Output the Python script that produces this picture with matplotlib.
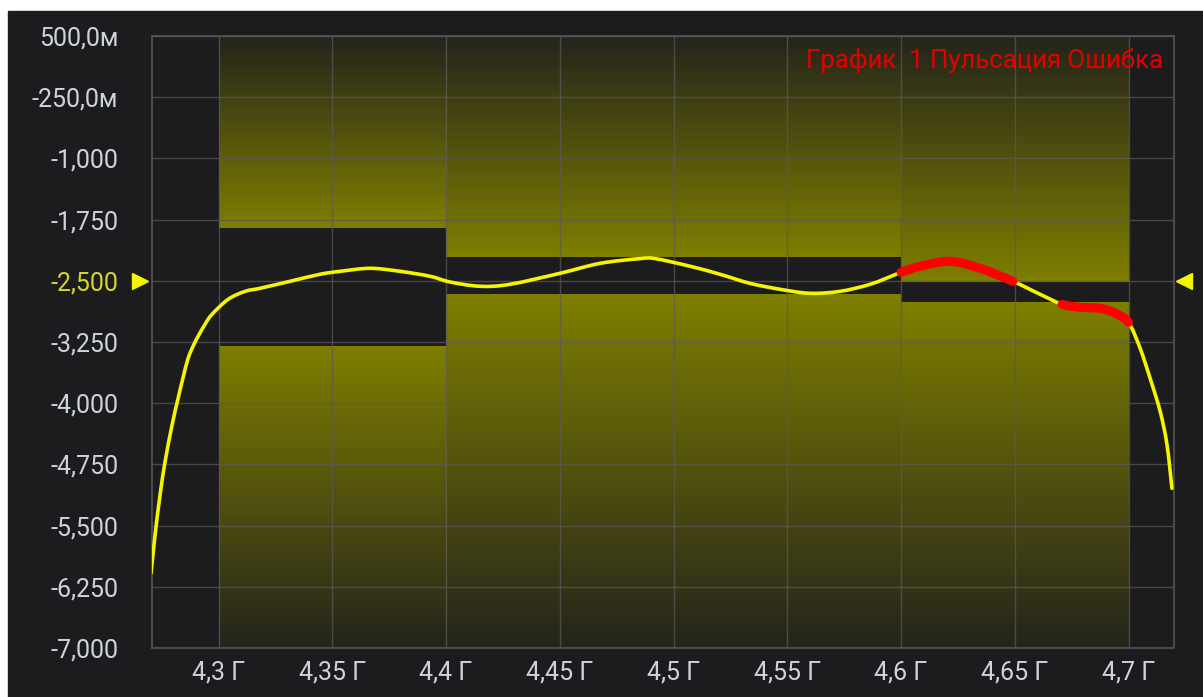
import numpy as np
import matplotlib
matplotlib.use('Agg')
import matplotlib.pyplot as plt
from matplotlib.patches import Rectangle, PathPatch
from matplotlib.path import Path

plt.rcParams['font.family'] = ['Roboto', 'DejaVu Sans']

# trace (GHz, level)
freq = [4.2703, 4.2721, 4.2743, 4.2765, 4.2796, 4.2822, 4.2844, 4.2866, 4.2888,
        4.2910, 4.2941, 4.2971,
        4.3042, 4.3117, 4.3182, 4.3314, 4.3446, 4.3534, 4.3666, 4.3798, 4.3930,
        4.4018, 4.4150, 4.4281, 4.4501, 4.4677, 4.4853, 4.4919, 4.5073, 4.5204,
        4.5336, 4.5468, 4.5600, 4.5732, 4.5864, 4.5978, 4.6000, 4.6084,
        4.6215, 4.6347, 4.6492, 4.6611, 4.6708, 4.6787, 4.6875, 4.6941,
        4.7000, 4.7051, 4.7095, 4.7139, 4.7169, 4.7191]
level = [-6.081, -5.607, -5.116, -4.712, -4.259, -3.940, -3.683, -3.450, -3.300,
         -3.180, -3.030, -2.911,
         -2.727, -2.629, -2.592, -2.506, -2.420, -2.384, -2.347, -2.384, -2.445,
         -2.515, -2.567, -2.543, -2.408, -2.286, -2.228, -2.228, -2.322, -2.420,
         -2.531, -2.604, -2.653, -2.629, -2.543, -2.420, -2.395, -2.322,
         -2.261, -2.347, -2.506, -2.665, -2.788, -2.825, -2.837, -2.898,
         -3.010, -3.327, -3.695, -4.099, -4.504, -5.043]

# limit segments
seg_start = [4.3, 4.4, 4.6]
seg_end = [4.4, 4.6, 4.7]
upper = [-1.85, -2.21, -2.52]
lower = [-3.31, -2.67, -2.76]

yticks = [0.5, -0.25, -1.0, -1.75, -2.5, -3.25, -4.0, -4.75, -5.5, -6.25, -7.0]
ylabels = ['500,0м', '-250,0м', '-1,000', '-1,750', '-2,500', '-3,250',
           '-4,000', '-4,750', '-5,500', '-6,250', '-7,000']
xticks = [4.3, 4.35, 4.4, 4.45, 4.5, 4.55, 4.6, 4.65, 4.7]
xlabels = ['4,3 Г', '4,35 Г', '4,4 Г', '4,45 Г', '4,5 Г', '4,55 Г', '4,6 Г', '4,65 Г', '4,7 Г']

bg = '#1c1c1e'
ymin, ymax = -7.0, 0.5
xmin, xmax = 4.2705, 4.72

fig = plt.figure(figsize=(12.03, 6.97), dpi=100, facecolor='white')
fig.patches.append(Rectangle((8/1203, 0), 1 - 8/1203, (697-11)/697,
                             transform=fig.transFigure, color=bg, zorder=-10))
ax = fig.add_axes([151.5/1203, 49/697, 1022.5/1203, 612/697])
ax.set_zorder(5)
ax.set_facecolor(bg)


def grad(ax, x0, x1, y0, y1, bright_top):
    n = 256
    t = np.linspace(0, 1, n)
    if not bright_top:
        t = t[::-1]
    # t=1 at limit edge
    a = 0.08 + 0.92 * t
    img = np.zeros((n, 1, 4))
    img[:, 0, 0] = 0.5
    img[:, 0, 1] = 0.5
    img[:, 0, 2] = 0.0
    img[:, 0, 3] = a
    ax.imshow(img, extent=[x0, x1, y0, y1], origin='lower', aspect='auto',
              interpolation='bilinear', zorder=1)


for s, e, u, l in zip(seg_start, seg_end, upper, lower):
    grad(ax, s, e, u, ymax, False)   # upper region: bright at bottom (limit)
    grad(ax, s, e, ymin, l, True)    # lower region: bright at top (limit)

ax.set_xlim(xmin, xmax)
ax.set_ylim(ymin, ymax)

ax.set_xticks(xticks)
ax.set_xticklabels(xlabels)
ax.set_yticks(yticks)
ax.set_yticklabels(ylabels)
ax.tick_params(axis='both', length=0, labelsize=18, colors='#cdd3dc')
ax.tick_params(axis='y', pad=24)
ax.tick_params(axis='x', pad=9)
ax.get_yticklabels()[4].set_color('#d6d62a')
ax.grid(True, color='#5a5a5a', linewidth=1.0, alpha=0.7, zorder=2)
ax.set_axisbelow(False)
for sp in ax.spines.values():
    sp.set_color('#4a4a4a')
    sp.set_linewidth(1.5)

f = np.array(freq)
v = np.array(level)
# red where out of limits
out = np.zeros(len(f), dtype=bool)
for s, e, u, l in zip(seg_start, seg_end, upper, lower):
    inseg = (f >= s) & (f <= e) if s == seg_start[-1] else (f >= s) & (f < e)
    out |= inseg & ((v > u) | (v < l))

# spline-style drawing (catmull-rom as bezier segments)
pts = np.column_stack([f, v])
P = np.vstack([pts[0], pts, pts[-1]])


def seg_path(idx):
    verts, codes = [], []
    prev = None
    for i in idx:
        p0, p1, p2, p3 = P[i], P[i+1], P[i+2], P[i+3]
        c1 = p1 + (p2 - p0) / 6.0
        c2 = p2 - (p3 - p1) / 6.0
        if prev != i - 1:
            verts.append(p1)
            codes.append(Path.MOVETO)
        verts += [c1, c2, p2]
        codes += [Path.CURVE4] * 3
        prev = i
    return Path(verts, codes)


all_idx = list(range(len(f) - 1))
red_idx = [i for i in all_idx if out[i] and out[i+1]]

ax.add_patch(PathPatch(seg_path(all_idx), fill=False, edgecolor='#f5f500',
                       linewidth=2.6, zorder=4, capstyle='round'))
ax.add_patch(PathPatch(seg_path(red_idx), fill=False, edgecolor='#ff0000',
                       linewidth=6.5, zorder=5, capstyle='round'))

ax.text(0.989, 0.96, 'График  1 Пульсация Ошибка', transform=ax.transAxes,
        ha='right', va='center', color='#e50000', fontsize=18.5, zorder=6)

ax.plot([-0.0112], [-2.5], marker='>', color='#f5f500', markersize=11,
        transform=ax.get_yaxis_transform(), clip_on=False)
ax.plot([1.0098], [-2.5], marker='<', color='#f5f500', markersize=11,
        transform=ax.get_yaxis_transform(), clip_on=False)

plt.savefig('out.png', dpi=100, facecolor='white')
plt.close()
